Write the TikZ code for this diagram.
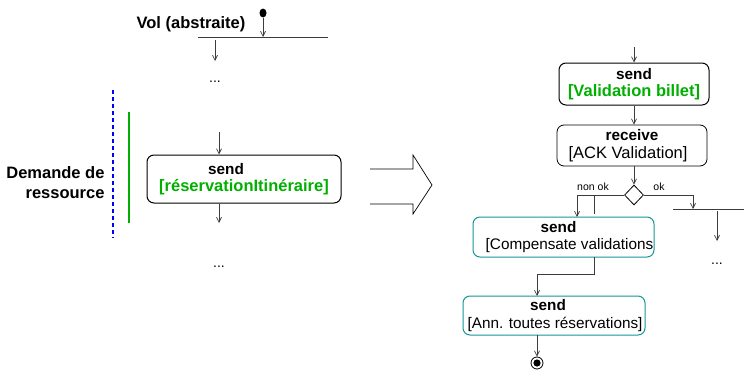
\documentclass[tikz,border=0pt]{standalone}
\usepackage{fontspec}
\setmainfont{Liberation Sans}
\usepackage{xcolor}
\usetikzlibrary{arrows.meta,shapes.geometric}

\definecolor{actgreen}{RGB}{0,175,0}
\definecolor{actteal}{RGB}{20,150,150}
\definecolor{lineg}{RGB}{60,60,60}

\tikzset{
  actbox/.style={draw, rounded corners=7pt, line width=1pt, align=center,
    inner sep=0pt, font=\fontsize{15.3}{17.5}\selectfont},
  flow/.style={draw=lineg, line width=0.7pt, -{Straight Barb[length=5pt,width=5pt]}},
  syncbar/.style={draw=lineg, line width=0.9pt},
  bigtext/.style={font=\fontsize{16.5}{20}\selectfont\bfseries},
  small/.style={font=\fontsize{10.5}{12}\selectfont},
  dotsnode/.style={font=\fontsize{14}{16}\selectfont}
}
\newcommand{\grn}[1]{{\fontsize{16.5}{18}\selectfont\bfseries\color{actgreen}#1}}

\begin{document}
\begin{tikzpicture}[x=1pt,y=-1pt]
  \useasboundingbox (0,0) rectangle (744,372);

  % Left side: abstract flight
  \node[bigtext] (vol) at (191,24) {Vol (abstraite)};
  \node[ellipse, fill=black, minimum width=7pt, minimum height=9pt, inner sep=0pt] (init) at (263,13) {};
  \coordinate (barA) at (198,37);
  \coordinate (barB) at (328,37);
  \draw[syncbar] (barA) -- (barB);
  \draw[flow] (init) -- (init |- barA);
  \coordinate (outA) at (215,40);
  \coordinate (endA) at (215,61);
  \draw[flow] (outA) -- (endA);
  \node[dotsnode] (dotsA) at (215,82) {...};

  % Resource request
  \draw[blue, line width=2.3pt, dash pattern=on 4pt off 3pt] (113,90) -- (113,238);
  \draw[actgreen, line width=2.3pt] (129,112) -- (129,223);
  \node[bigtext, align=right, anchor=east] (demande) at (108,183) {Demande de\\ressource};

  \node[actbox, minimum width=194pt, minimum height=48pt] (resa) at (244,179)
    {\textbf{send}\hspace*{36pt}\\\grn{[réservationItinéraire]}};
  \coordinate (inB) at (219,132);
  \draw[flow] (inB) -- (inB |- resa.north);
  \coordinate (endB) at (219,223);
  \draw[flow] (endB |- resa.south) -- (endB);
  \node[dotsnode] (dotsB) at (219,267) {...};

  % Hollow arrow
  \draw[line width=0.7pt] (370,169) -- (413,169) -- (413,155) -- (432,185)
    -- (413,214) -- (413,204) -- (370,204);

  % Right side
  \node[actbox, minimum width=150pt, minimum height=42pt] (valid) at (634,84)
    {\textbf{send}\\\grn{[Validation billet]}};
  \coordinate (inC) at (634,47);
  \draw[flow] (inC) -- (valid.north);
  \node[actbox, line width=0.8pt, minimum width=150pt, minimum height=41pt] (ack) at (632,145.5)
    {\textbf{receive}\\{\fontsize{16.5}{18}\selectfont[ACK Validation]\hspace*{8pt}}};
  \draw[flow] (valid.south) -- (valid.south |- ack.north);
  \node[diamond, draw, line width=0.8pt, minimum width=19pt, minimum height=20pt,
    inner sep=0pt] (dec) at (634,195) {};
  \draw[flow] (ack.south -| dec.north) -- (dec.north);
  \node[small] (nonok) at (593,187) {non ok};
  \node[small] (ok) at (659,187) {ok};

  \node[actbox, draw=actteal, minimum width=181pt, minimum height=40pt] (comp) at (563.5,237)
    {\textbf{send}\hspace*{10pt}\\\hspace*{12pt}[Compensate validations};
  \coordinate (brL) at (577,217);
  \draw[flow] (dec.west) -| (brL);
  \draw[lineg, line width=0.7pt] (594,195) -- (594,214);

  \coordinate (barC) at (673,209);
  \coordinate (barD) at (744,209);
  \draw[syncbar] (barC) -- (barD);
  \draw[flow] (dec.east) -| (693,209);
  \coordinate (outC) at (717,211);
  \coordinate (endC) at (717,241);
  \draw[flow] (outC) -- (endC);
  \node[dotsnode] (dotsC) at (717,264) {...};

  \node[actbox, draw=actteal, minimum width=182pt, minimum height=39pt] (annul) at (554,315.5)
    {\textbf{send}\hspace*{12pt}\\\hspace*{2pt}[Ann. toutes réservations]};
  \coordinate (cmpOut) at (594,257);
  \draw[flow] (cmpOut) -- (594,274) -- (537,274) -- (537,296);

  \node[circle, draw, line width=0.8pt, minimum size=12pt, inner sep=0pt] (final) at (537,363) {};
  \fill (final) circle (3.6pt);
  \draw[flow] (537,335) -- (final.north);
\end{tikzpicture}
\end{document}
